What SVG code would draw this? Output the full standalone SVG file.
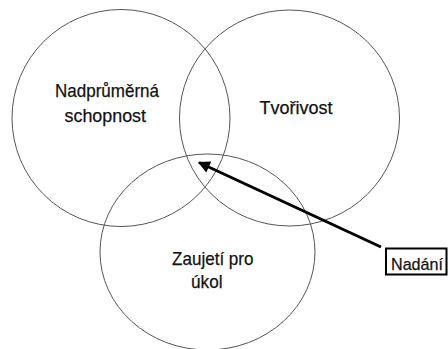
<svg xmlns="http://www.w3.org/2000/svg" width="448" height="349" viewBox="0 0 448 349">
<defs>
<style>
.c{fill:none;stroke:#555;stroke-width:1}
.t{font-family:"Liberation Sans",Arial,sans-serif;font-size:19px;fill:#111;stroke:#111;stroke-width:0.25}
</style>
<marker id="ah" viewBox="0 0 10 10" refX="9" refY="5" markerWidth="4.4" markerHeight="4" orient="auto" markerUnits="strokeWidth">
<path d="M0,0 L10,5 L0,10 z" fill="#000"/>
</marker>
</defs>
<rect width="448" height="349" fill="#fff"/>
<g id="schopnost">
<ellipse class="c" cx="121" cy="118" rx="109" ry="108.5"/>
<text class="t" x="55" y="97" textLength="104" lengthAdjust="spacingAndGlyphs">Nadprůměrná</text>
<text class="t" x="64.5" y="122" textLength="81.5" lengthAdjust="spacingAndGlyphs">schopnost</text>
</g>
<g id="tvorivost">
<ellipse class="c" cx="289.5" cy="118" rx="110" ry="108"/>
<text class="t" x="259.5" y="114" textLength="73" lengthAdjust="spacingAndGlyphs">Tvořivost</text>
</g>
<g id="zaujeti">
<ellipse class="c" cx="207.5" cy="252" rx="107.5" ry="98"/>
<text class="t" x="172" y="265" textLength="81.5" lengthAdjust="spacingAndGlyphs">Zaujetí pro</text>
<text class="t" x="191" y="288" textLength="31.5" lengthAdjust="spacingAndGlyphs">úkol</text>
</g>
<g id="nadani">
<rect x="386" y="248.5" width="60.5" height="26" fill="#fff" stroke="#000" stroke-width="2"/>
<text class="t" x="391" y="269.5" style="font-size:17px" textLength="52" lengthAdjust="spacingAndGlyphs">Nadání</text>
</g>
<g id="connectors">
<line x1="381" y1="247" x2="199" y2="162.5" stroke="#000" stroke-width="3" marker-end="url(#ah)"/>
</g>
</svg>
